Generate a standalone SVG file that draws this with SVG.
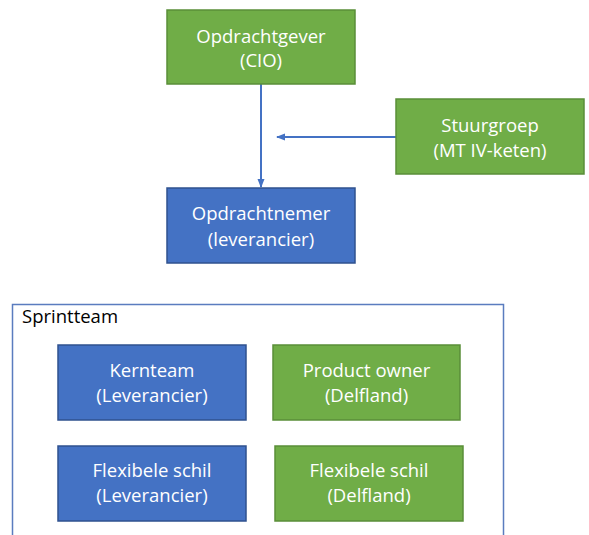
<svg xmlns="http://www.w3.org/2000/svg" width="589" height="535" viewBox="0 0 589 535">
<defs>
<style>
.g{fill:#70ad47;stroke:#5a8e38;stroke-width:1.5}
.b{fill:#4472c4;stroke:#2f528f;stroke-width:1.5}
.t{font-family:"Open Sans","Liberation Sans",sans-serif;font-size:18.5px;fill:#ffffff;text-anchor:middle}
.lbl{font-family:"Open Sans","Liberation Sans",sans-serif;font-size:18.5px;fill:#000000}
.c{stroke:#4472c4;stroke-width:2;fill:none}
</style>
<marker id="ah" markerWidth="10" markerHeight="10" refX="8" refY="5" orient="auto" markerUnits="userSpaceOnUse">
<path d="M0,1.5 L9,5 L0,8.5 Z" fill="#4472c4"/>
</marker>
</defs>
<rect width="589" height="535" fill="#ffffff"/>
<g id="sprintteam">
<rect x="12.5" y="304.5" width="491" height="240" fill="none" stroke="#5a7cbf" stroke-width="1.5"/>
<text class="lbl" x="22" y="323">Sprintteam</text>
</g>
<g id="connectors">
<line class="c" x1="261" y1="84" x2="261" y2="187" marker-end="url(#ah)"/>
<line class="c" x1="396" y1="137" x2="277" y2="137" marker-end="url(#ah)"/>
</g>
<g id="opdrachtgever">
<rect class="g" x="167" y="10" width="188" height="74"/>
<text class="t" x="261" y="43">Opdrachtgever</text>
<text class="t" x="261" y="67">(CIO)</text>
</g>
<g id="stuurgroep">
<rect class="g" x="396" y="99" width="188" height="75"/>
<text class="t" x="490" y="132">Stuurgroep</text>
<text class="t" x="490" y="157">(MT IV-keten)</text>
</g>
<g id="opdrachtnemer">
<rect class="b" x="167" y="188" width="188" height="75"/>
<text class="t" x="261" y="220">Opdrachtnemer</text>
<text class="t" x="261" y="246">(leverancier)</text>
</g>
<g id="kernteam">
<rect class="b" x="58" y="345" width="188" height="75"/>
<text class="t" x="152" y="377">Kernteam</text>
<text class="t" x="152" y="402">(Leverancier)</text>
</g>
<g id="productowner">
<rect class="g" x="273" y="345" width="187" height="75"/>
<text class="t" x="366.5" y="377">Product owner</text>
<text class="t" x="366.5" y="402">(Delfland)</text>
</g>
<g id="flexschil-leverancier">
<rect class="b" x="58" y="446" width="188" height="75"/>
<text class="t" x="152" y="477">Flexibele schil</text>
<text class="t" x="152" y="502">(Leverancier)</text>
</g>
<g id="flexschil-delfland">
<rect class="g" x="275" y="446" width="188" height="75"/>
<text class="t" x="369" y="477">Flexibele schil</text>
<text class="t" x="369" y="502">(Delfland)</text>
</g>
</svg>
